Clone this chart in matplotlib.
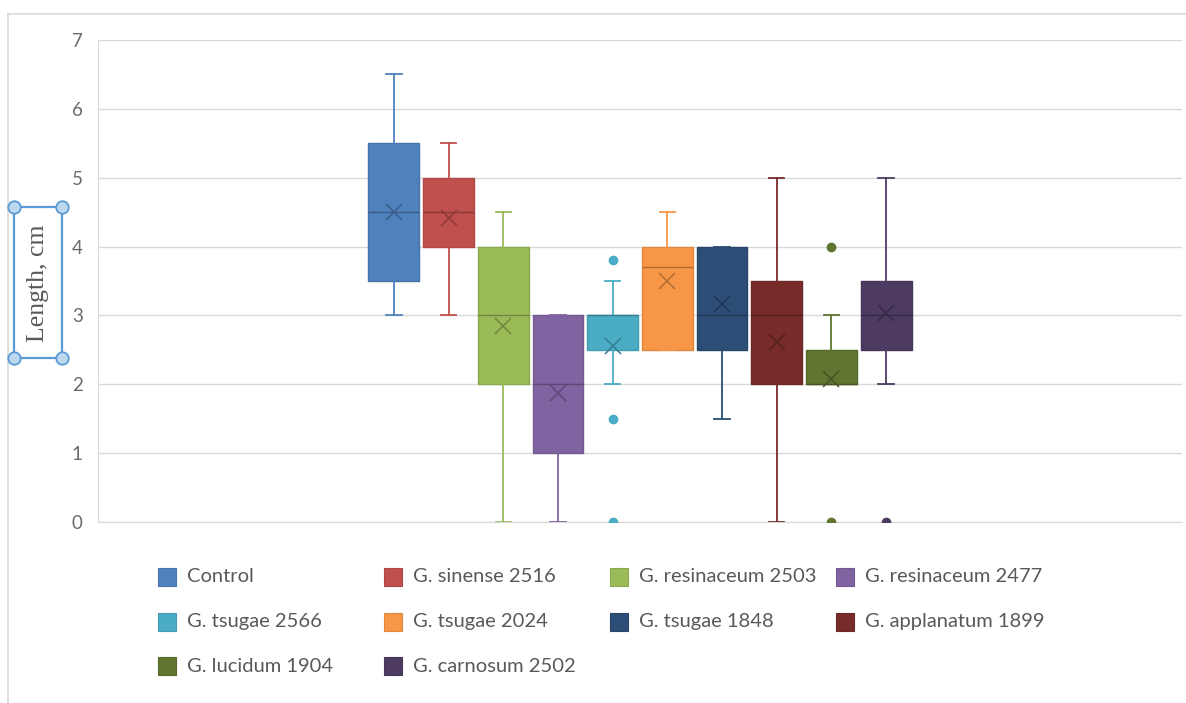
import numpy as np
import matplotlib
matplotlib.use('Agg')
import matplotlib.pyplot as plt
from matplotlib.patches import Rectangle
from matplotlib.lines import Line2D
from matplotlib.colors import to_rgb

# box plot summary per strain
names = ['Control', 'G. sinense 2516', 'G. resinaceum 2503', 'G. resinaceum 2477',
         'G. tsugae 2566', 'G. tsugae 2024', 'G. tsugae 1848', 'G. applanatum 1899',
         'G. lucidum 1904', 'G. carnosum 2502']
whislo = [3, 3, 0, 0, 2, 2.5, 1.5, 0, 2, 2]
q1 = [3.5, 4, 2, 1, 2.5, 2.5, 2.5, 2, 2, 2.5]
med = [4.5, 4.5, 3, 2, 3, 3.7, 3, 3, 2, 3]
q3 = [5.5, 5, 4, 3, 3, 4, 4, 3.5, 2.5, 3.5]
whishi = [6.5, 5.5, 4.5, 3, 3.5, 4.5, 4, 5, 3, 5]
means = [4.5, 4.42, 2.85, 1.87, 2.55, 3.5, 3.16, 2.61, 2.07, 3.03]
fliers = [[], [], [], [], [3.8, 1.5, 0], [], [], [], [4, 0], [0]]
yticks = [0, 1, 2, 3, 4, 5, 6, 7]

colors = ['#4F81BD', '#C0504D', '#9BBB59', '#8064A2', '#4BACC6',
          '#F79646', '#2C4D75', '#772C2A', '#5F7530', '#4D3B62']

W, H = 1186, 703
fig = plt.figure(figsize=(W / 100, H / 100), dpi=100)
ax = fig.add_axes([98 / W, 1 - 522 / H, (1182 - 98) / W, (522 - 40) / H])

grid_c = '#D9D9D9'
text_c = '#595959'
font = 'Lato'


def darker(c, f=0.72):
    r, g, b = to_rgb(c)
    return (r * f, g * f, b * f)


positions = np.arange(1, len(names) + 1)
for i, pos in enumerate(positions):
    st = dict(med=med[i], q1=q1[i], q3=q3[i], whislo=whislo[i], whishi=whishi[i],
              mean=means[i], fliers=fliers[i], label=names[i])
    c = colors[i]
    dc = darker(c)
    ax.bxp([st], positions=[pos], widths=0.93, capwidths=0.28, patch_artist=True,
           showmeans=True,
           boxprops=dict(facecolor=c, edgecolor=darker(c, 0.9), linewidth=1),
           medianprops=dict(color=dc, linewidth=1),
           whiskerprops=dict(color=c, linewidth=1.3),
           capprops=dict(color=c, linewidth=1.3),
           meanprops=dict(marker='x', markersize=12, markeredgecolor=dc,
                          markeredgewidth=1.1, linestyle='none'),
           flierprops=dict(marker='o', markersize=6, markerfacecolor=c,
                           markeredgecolor=c, linestyle='none'),
           zorder=3)

ax.set_xlim(5.5 - 9.91, 5.5 + 9.91)
ax.set_ylim(0, 7)
ax.set_yticks(yticks)
ax.set_xticks([])
ax.yaxis.grid(True, color=grid_c, linewidth=1)
ax.set_axisbelow(True)
for s in ['top', 'right']:
    ax.spines[s].set_visible(False)
ax.spines['left'].set_color(grid_c)
ax.spines['bottom'].set_color(grid_c)
ax.tick_params(axis='y', length=0, pad=11, labelsize=13.5, labelcolor='#6b6b6b')
for lab in ax.get_yticklabels():
    lab.set_fontfamily(font)

# outer chart frame (cropped)
fig.add_artist(Line2D([8 / W, 8 / W], [0, 1 - 14 / H], transform=fig.transFigure,
                      color=grid_c, linewidth=1.2))
fig.add_artist(Line2D([8 / W, 1], [1 - 14 / H, 1 - 14 / H], transform=fig.transFigure,
                      color=grid_c, linewidth=1.2))

# axis title with selection frame
fig.text(38 / W, 1 - 283 / H, 'Length, cm', rotation=90, ha='center', va='center',
         family='Liberation Serif', fontsize=18.5, color=text_c)
sel = Rectangle((14 / W, 1 - 358 / H), 48 / W, 151 / H, transform=fig.transFigure,
                fill=False, edgecolor='#5B9BD5', linewidth=1.6)
fig.add_artist(sel)
for cx, cy in [(14, 207), (62, 207), (14, 358), (62, 358)]:
    fig.add_artist(Line2D([cx / W], [1 - cy / H], transform=fig.transFigure,
                          marker='o', markersize=9, markerfacecolor='#BDD7EE',
                          markeredgecolor='#5B9BD5', markeredgewidth=1.3))

# legend laid out like Excel: 4 equal columns, filled row by row
for i, name in enumerate(names):
    row, col = divmod(i, 4)
    x0 = 158 + col * 226
    yc = 577 + row * 44.5
    fig.add_artist(Rectangle((x0 / W, 1 - (yc + 9) / H), 18 / W, 18 / H,
                             transform=fig.transFigure, facecolor=colors[i],
                             edgecolor=darker(colors[i], 0.9), linewidth=0.8))
    fig.text((x0 + 29) / W, 1 - yc / H, name, ha='left', va='center',
             family=font, fontsize=14.5, color=text_c)

fig.savefig('out.png', dpi=100, facecolor='white')
